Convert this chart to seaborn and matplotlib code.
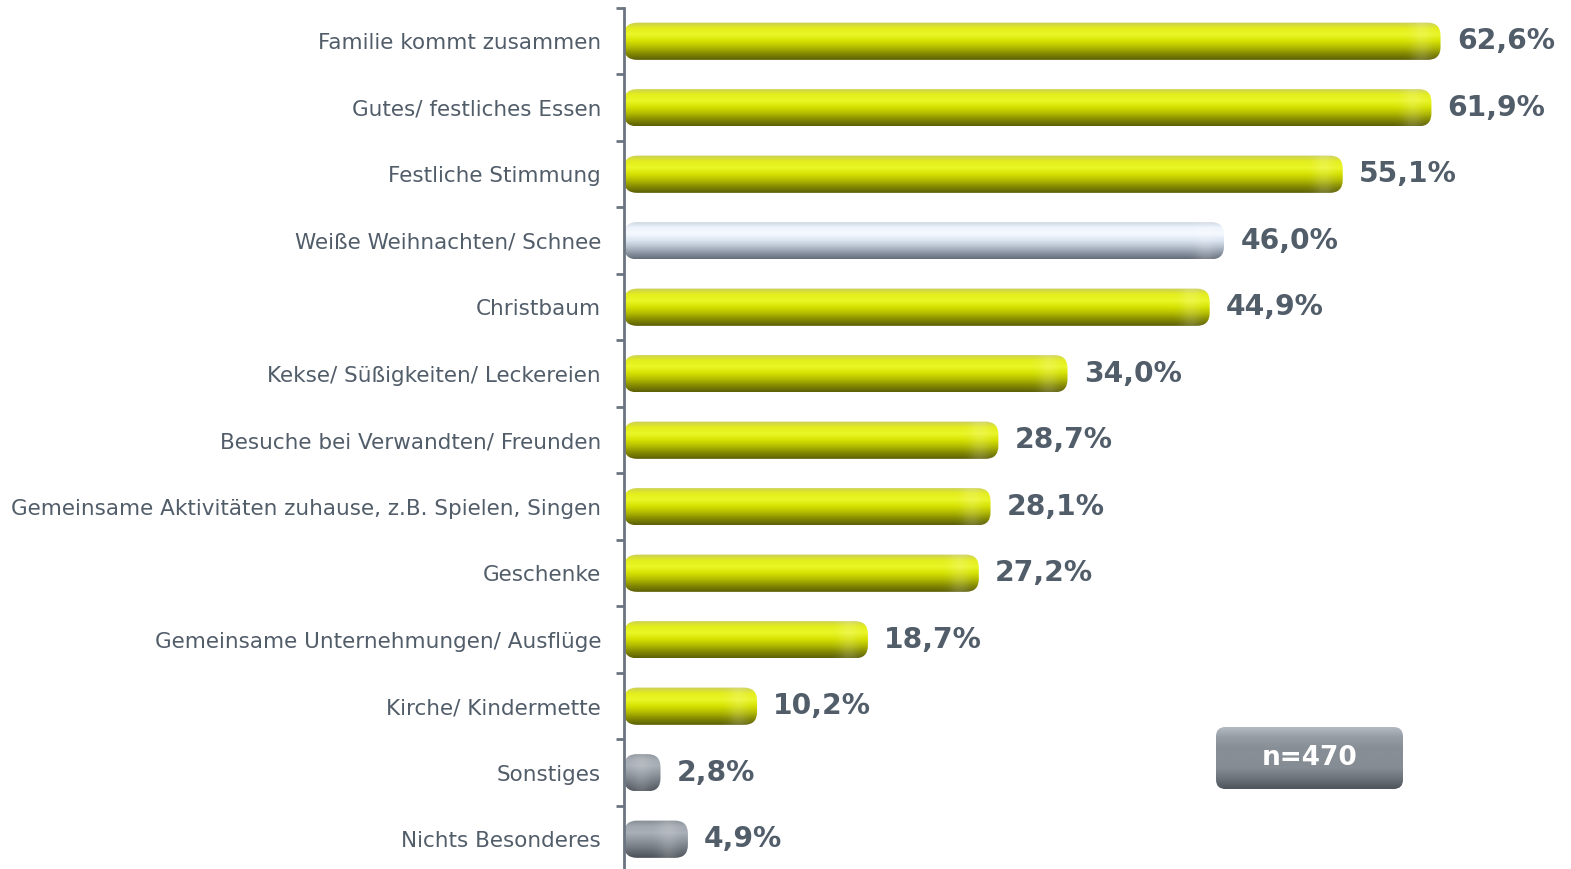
import numpy as np
import pandas as pd
import matplotlib
matplotlib.use("Agg")
import matplotlib.pyplot as plt
from matplotlib.colors import LinearSegmentedColormap
from matplotlib.patches import FancyBboxPatch
import seaborn as sns

# === Data ===
categories = [
    "Familie kommt zusammen",
    "Gutes/ festliches Essen",
    "Festliche Stimmung",
    "Weiße Weihnachten/ Schnee",
    "Christbaum",
    "Kekse/ Süßigkeiten/ Leckereien",
    "Besuche bei Verwandten/ Freunden",
    "Gemeinsame Aktivitäten zuhause, z.B. Spielen, Singen",
    "Geschenke",
    "Gemeinsame Unternehmungen/ Ausflüge",
    "Kirche/ Kindermette",
    "Sonstiges",
    "Nichts Besonderes",
]
values = [62.6, 61.9, 55.1, 46.0, 44.9, 34.0, 28.7, 28.1, 27.2, 18.7, 10.2, 2.8, 4.9]
value_labels = ["62,6%", "61,9%", "55,1%", "46,0%", "44,9%", "34,0%", "28,7%",
                "28,1%", "27,2%", "18,7%", "10,2%", "2,8%", "4,9%"]
bar_style = ["yellow", "yellow", "yellow", "white", "yellow", "yellow", "yellow",
             "yellow", "yellow", "yellow", "yellow", "gray", "gray"]
sample_note = "n=470"

df = pd.DataFrame({"Kategorie": categories, "Anteil": values})

# === Gradient colours for the glossy bars (top -> bottom) ===
gradients = {
    "yellow": ["#c9cc5a", "#e4ee1c", "#eaf626", "#d6e200", "#b2bb00", "#838900", "#5c5e08"],
    "white": ["#c6d0dc", "#eef4fd", "#f6faff", "#dde6f2", "#b9c3d0", "#8d97a5", "#646c78"],
    "gray": ["#858b93", "#a3a9b1", "#a9afb7", "#939aa2", "#7c838b", "#646a72", "#4b5058"],
    "box": ["#b4bac2", "#959ca4", "#878e96", "#878e96", "#858c94", "#6c727a", "#4e545c"],
}
cmaps = {k: LinearSegmentedColormap.from_list(k, v) for k, v in gradients.items()}

text_color = "#525d6a"
axis_color = "#6b7481"

sns.set_style("white")
plt.rcParams["font.family"] = ["DejaVu Sans"]

fig = plt.figure(figsize=(15.71, 8.69), dpi=100)
ax = fig.add_axes([624 / 1571, -0.004, 1 - 624 / 1571, 1 - 8 / 869 + 0.004])

sns.barplot(data=df, x="Anteil", y="Kategorie", orient="h", ax=ax,
            width=0.56, color="#dddd00", saturation=1)

ax.set_xlim(0, 72.6)
ax.set_ylim(len(categories) - 0.5, -0.5)

fig.canvas.draw()
# pixel per data unit in x and y
p0 = ax.transData.transform((0, 0))
p1 = ax.transData.transform((1, 1))
px_x = abs(p1[0] - p0[0])
px_y = abs(p1[1] - p0[1])
radius_px = 13
r_x = radius_px / px_x
aspect = px_x / px_y

grad = np.linspace(0, 1, 256).reshape(-1, 1)
for patch, style in zip(list(ax.patches), bar_style):
    x0, y0 = patch.get_x(), patch.get_y()
    w, h = patch.get_width(), patch.get_height()
    patch.set_visible(False)
    box = FancyBboxPatch((x0, y0), w, h,
                         boxstyle=f"round,pad=0,rounding_size={r_x}",
                         mutation_aspect=aspect,
                         facecolor="none", edgecolor="none", zorder=2)
    ax.add_patch(box)
    im = ax.imshow(grad, cmap=cmaps[style], aspect="auto",
                   extent=(x0, x0 + w, y0 + h, y0), zorder=2,
                   interpolation="bilinear")
    im.set_clip_path(box)
    # soft lighter band near the right end
    npx = max(int(w * px_x), 2)
    xs = np.arange(npx)
    centre = npx - 1.5 * radius_px
    alpha = 0.16 * np.exp(-((xs - centre) / (0.8 * radius_px)) ** 2)
    band = np.ones((1, npx, 4))
    band[0, :, 3] = alpha
    hl = ax.imshow(band, aspect="auto", extent=(x0, x0 + w, y0 + h, y0),
                   zorder=3, interpolation="bilinear")
    hl.set_clip_path(box)

ax.set_xlim(0, 72.6)
ax.set_ylim(len(categories) - 0.5, -0.5)

# value labels
for i, (v, lab) in enumerate(zip(values, value_labels)):
    ax.text(v + 1.25, i, lab, va="center", ha="left", fontsize=20.3,
            fontweight="bold", color=text_color)

# axes styling
ax.set_xlabel("")
ax.set_ylabel("")
ax.set_xticks([])
ax.tick_params(axis="y", which="major", left=False, length=0, pad=16.5,
               labelsize=15.5, labelcolor=text_color)
ax.set_yticks(np.arange(-0.5, len(categories), 1.0), minor=True)
ax.tick_params(axis="y", which="minor", left=True, length=6, width=2,
               color=axis_color, direction="out")
for s in ["top", "right", "bottom"]:
    ax.spines[s].set_visible(False)
ax.spines["left"].set_color(axis_color)
ax.spines["left"].set_linewidth(2)

# sample size box
bax = fig.add_axes([1216 / 1571, (869 - 789) / 869, (1403 - 1216) / 1571, 62 / 869])
bax.set_axis_off()
bax.set_xlim(0, 1)
bax.set_ylim(0, 1)
bw, bh = 187, 62
nbox = FancyBboxPatch((0, 0), 1, 1, boxstyle="round,pad=0,rounding_size=0.05",
                      mutation_aspect=bw / bh, transform=bax.transAxes,
                      facecolor="none", edgecolor="none")
bax.add_patch(nbox)
bim = bax.imshow(grad, cmap=cmaps["box"], aspect="auto", extent=(0, 1, 0, 1),
                 origin="upper", interpolation="bilinear")
bim.set_clip_path(nbox)
bax.text(0.5, 0.5, sample_note, ha="center", va="center", fontsize=19,
         fontweight="bold", color="white", transform=bax.transAxes)

fig.savefig("out.png", dpi=100)
